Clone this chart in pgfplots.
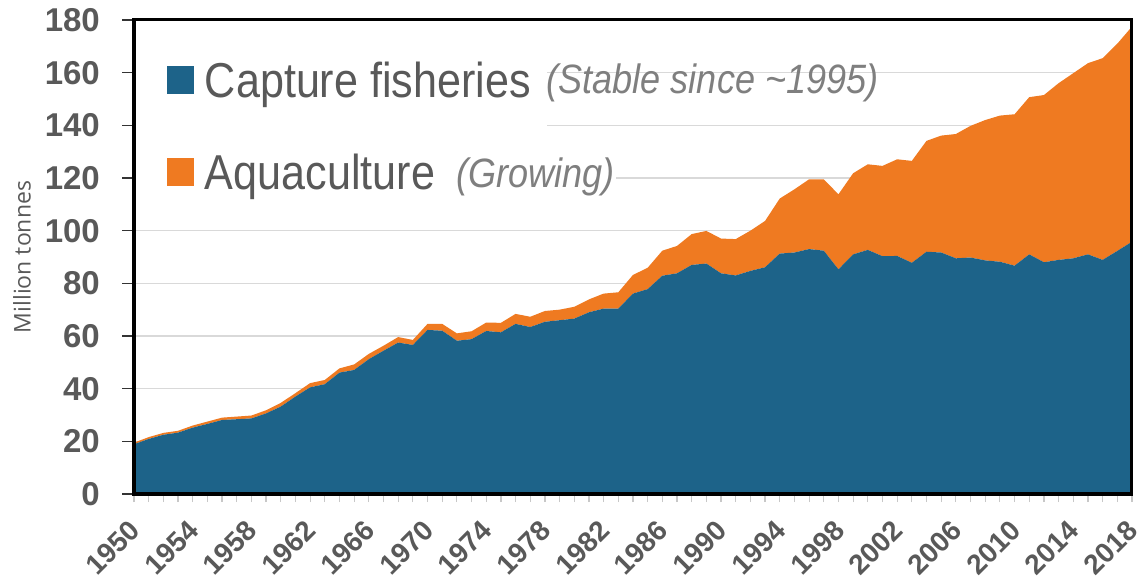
\documentclass[border=0pt]{standalone}
\usepackage{fontspec}
\setmainfont{Liberation Sans}
\newfontfamily\condfont[FakeStretch=0.88]{Liberation Sans}
\newfontfamily\ylabfont{Open Sans}
\usepackage{graphicx}
\usepackage{pgfplots}
\usepackage{pgfplotstable}
\pgfplotsset{compat=1.18}
\definecolor{capblue}{HTML}{1D6389}
\definecolor{aquaorange}{HTML}{EF7A21}
\definecolor{txtgray}{HTML}{595959}
\definecolor{anngray}{HTML}{7F7F7F}
\definecolor{gridgray}{HTML}{D9D9D9}
\definecolor{xtickgray}{HTML}{C8C8C8}
\pgfplotsset{layers/mylayers/.define layer set={axis background,axis grid,main,axis ticks,axis lines,axis tick labels,axis descriptions,axis foreground}{/pgfplots/layers/standard}}

\pgfplotstableread{
year cap aqua
1950 18.9 0.6
1951 20.9 0.7
1952 22.5 0.7
1953 23.3 0.7
1954 25.2 0.8
1955 26.6 0.9
1956 28.1 0.9
1957 28.4 1.0
1958 28.7 1.1
1959 30.6 1.2
1960 33.2 1.4
1961 37.0 1.3
1962 40.5 1.6
1963 41.7 1.6
1964 46.1 1.6
1965 47.1 2.1
1966 51.2 2.0
1967 54.4 1.9
1968 57.5 2.1
1969 56.6 1.9
1970 62.3 2.3
1971 62.0 2.6
1972 58.2 2.8
1973 58.8 3.0
1974 61.9 3.2
1975 61.4 3.6
1976 64.6 3.8
1977 63.4 3.9
1978 65.4 4.1
1979 66.0 4.0
1980 66.6 4.5
1981 69.0 4.9
1982 70.4 5.7
1983 70.4 6.2
1984 76.1 7.1
1985 77.8 8.1
1986 82.9 9.5
1987 83.8 10.4
1988 87.0 11.7
1989 87.5 12.4
1990 83.8 13.2
1991 83.0 13.8
1992 84.7 15.3
1993 86.1 17.6
1994 91.3 20.9
1995 91.7 24.0
1996 93.0 26.5
1997 92.4 27.1
1998 85.3 28.5
1999 91.0 30.8
2000 92.7 32.5
2001 90.3 34.3
2002 90.4 36.7
2003 87.8 38.7
2004 92.0 42.1
2005 91.7 44.4
2006 89.5 47.2
2007 89.8 50.0
2008 88.7 53.3
2009 88.2 55.5
2010 86.7 57.5
2011 91.0 59.7
2012 88.0 63.5
2013 88.9 67.1
2014 89.5 70.3
2015 91.0 72.6
2016 88.9 76.6
2017 92.3 78.7
2018 95.8 81.7
}\datatable

\begin{document}
\begin{tikzpicture}
\begin{axis}[
  set layers=mylayers,
  at={(0,0)}, anchor=south west,
  scale only axis, width=998bp, height=474bp,
  xmin=1950, xmax=2018, ymin=0, ymax=180,
  stack plots=y,
  xtick={1950,1954,...,2018},
  minor xtick={1950,1951,...,2018},
  ytick={0,20,...,180},
  tick pos=left,
  tick align=outside,
  major tick length=12bp,
  minor tick length=8bp,
  major x tick style={draw=none},
  minor x tick style={xtickgray, line width=1.2bp},
  ytick style={black!80, line width=1.5bp},
  ymajorgrids,
  grid style={gridgray, line width=1.5bp},
  axis line style={black, line width=3bp},
  /pgf/number format/assume math mode=true,
  xticklabel={\rotatebox{45}{\pgfmathprintnumber[1000 sep={}]{\tick}}},
  x tick label style={font=\bfseries\fontsize{28bp}{31bp}\selectfont, text=txtgray, anchor=north east, inner sep=0pt, xshift=8bp, yshift=-12bp},
  y tick label style={font=\bfseries\fontsize{33bp}{36bp}\selectfont, text=txtgray, anchor=east, inner sep=0pt, xshift=-22bp},
  ylabel={Million tonnes},
  ylabel style={at={(axis description cs:-0.1122,0.5)}, anchor=center, font=\ylabfont\fontsize{23bp}{26bp}\selectfont, text=txtgray},
  legend style={at={(axis description cs:0.033,0.912)}, anchor=north west, draw=none, fill=none, inner sep=0pt, outer sep=0pt,
    font=\condfont\fontsize{49bp}{55bp}\selectfont, text=txtgray, row sep=55bp, column sep=9bp, cells={anchor=west},
    nodes={inner ysep=0pt, inner xsep=2bp}},
  legend image code/.code={\fill[#1] (0bp,-14bp) rectangle (27bp,14bp);},
]
\fill[white] (axis description cs:0.0,0.62) rectangle (axis description cs:0.414,0.947);
\addplot[fill=capblue, draw=none] table[x=year, y=cap] {\datatable} \closedcycle;
\addlegendentry{Capture fisheries}
\addplot[fill=aquaorange, draw=none] table[x=year, y=aqua] {\datatable} \closedcycle;
\addlegendentry{Aquaculture}
\coordinate (annA) at (axis cs:1978.1,151.9);
\coordinate (annB) at (axis cs:1971.9,116.4);
\end{axis}
\node[anchor=base west, font=\condfont\itshape\fontsize{41bp}{46bp}\selectfont, text=anngray, inner sep=0pt] at (annA) {(Stable since \textasciitilde1995)};
\node[anchor=base west, font=\condfont\itshape\fontsize{41bp}{46bp}\selectfont, text=anngray, fill=white, inner sep=1bp] at (annB) {(Growing)};
\pgfresetboundingbox
\useasboundingbox (-134bp,-88bp) rectangle (1006bp,494bp);
\end{tikzpicture}
\end{document}
